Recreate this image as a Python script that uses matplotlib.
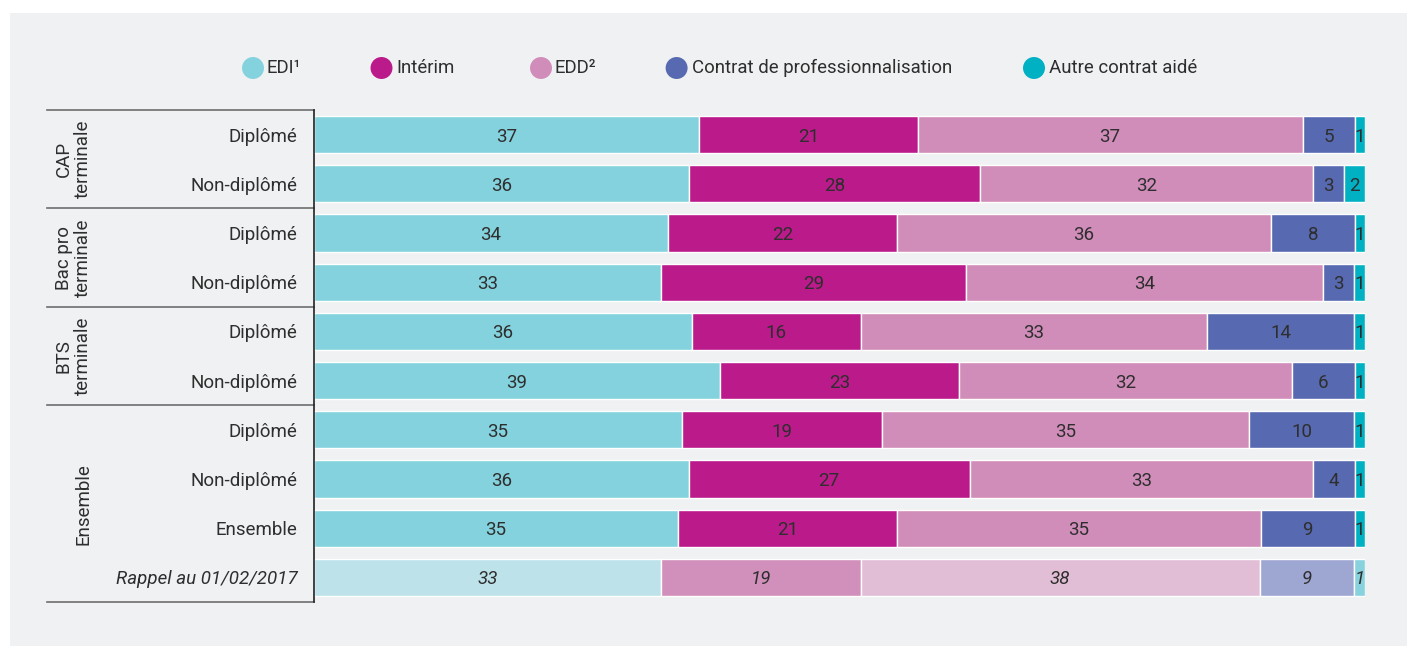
import matplotlib
matplotlib.use("Agg")
import matplotlib.pyplot as plt
import matplotlib.transforms as mtransforms
from matplotlib.patches import Rectangle
import numpy as np

plt.rcParams['font.family'] = ['Roboto', 'DejaVu Sans']

# ---------------- data ----------------
row_labels = ["Diplômé", "Non-diplômé", "Diplômé", "Non-diplômé", "Diplômé",
              "Non-diplômé", "Diplômé", "Non-diplômé", "Ensemble",
              "Rappel au 01/02/2017"]
groups = ["CAP\nterminale", "Bac pro\nterminale", "BTS\nterminale", "Ensemble"]
group_rows = [(0, 1), (2, 3), (4, 5), (6, 9)]

series = ["EDI¹", "Intérim", "EDD²", "Contrat de professionnalisation", "Autre contrat aidé"]
edi      = [37, 36, 34, 33, 36, 39, 35, 36, 35, 33]
interim  = [21, 28, 22, 29, 16, 23, 19, 27, 21, 19]
edd      = [37, 32, 36, 34, 33, 32, 35, 33, 35, 38]
contrat  = [5, 3, 8, 3, 14, 6, 10, 4, 9, 9]
autre    = [1, 2, 1, 1, 1, 1, 1, 1, 1, 1]

colors = ["#84d2de", "#bb1a8b", "#d18db9", "#5769b0", "#00b1c4"]
colors_rappel = ["#bde2ea", "#d18fbb", "#e2bed6", "#9ea6d2", "#87d2dd"]

# ---------------- figure ----------------
W, H = 1407, 646
fig = plt.figure(figsize=(W / 100, H / 100), dpi=100, facecolor="white")

# overlay in pixel coordinates for background panel and legend
bg = fig.add_axes([0, 0, 1, 1], zorder=0)
bg.set_xlim(0, W)
bg.set_ylim(H, 0)
bg.axis("off")
bg.add_patch(Rectangle((10, 13), W - 10, H - 13, facecolor="#f0f1f3", edgecolor="none"))

left, right, top, bottom = 314, 1365, 110, 602
ax = fig.add_axes([left / W, 1 - bottom / H, (right - left) / W, (bottom - top) / H], zorder=1)
ax.set_facecolor("none")

data = np.array([edi, interim, edd, contrat, autre], dtype=float)
totals = data.sum(axis=0)
shares = data / totals * 100
n = len(row_labels)
y = np.arange(n)
cum = np.zeros(n)
txt_color = "#2e2e2e"
for k in range(len(series)):
    cols = [colors_rappel[k] if i == n - 1 else colors[k] for i in range(n)]
    ax.barh(y, shares[k], left=cum, height=0.76, color=cols,
            edgecolor="white", linewidth=1.0)
    for i in range(n):
        ax.text(cum[i] + shares[k][i] / 2, y[i], f"{int(data[k][i])}",
                ha="center", va="center_baseline", fontsize=13.5, color=txt_color,
                style="italic" if i == n - 1 else "normal")
    cum += shares[k]

ax.set_xlim(0, 100)
ax.set_ylim(n - 0.5, -0.5)
ax.set_xticks([])
ax.set_yticks(y)
ax.set_yticklabels(row_labels, fontsize=13.5, color=txt_color)
ax.get_yticklabels()[-1].set_fontstyle("italic")
ax.tick_params(axis="y", length=0, pad=12)
for s in ["top", "right", "bottom"]:
    ax.spines[s].set_visible(False)
ax.spines["left"].set_color("#222222")
ax.spines["left"].set_linewidth(1.2)

# table lines and group labels
trans = mtransforms.blended_transform_factory(ax.transAxes, ax.transData)
x0 = (47 - left) / (right - left)
boundaries = [-0.5] + [g[1] + 0.5 for g in group_rows]
for b in boundaries:
    ax.plot([x0, 0], [b, b], color="#6e6e6e", lw=1.2, transform=trans, clip_on=False)
xg = (92 - left) / (right - left)
for g, (a, b) in zip(groups, group_rows):
    ax.text(xg, (a + b) / 2, g, rotation=90, ha="right", va="center",
            multialignment="center", fontsize=13.5, color=txt_color,
            transform=trans, linespacing=1.1)

# legend (manual)
circle_x = [253, 381.5, 541, 676.6, 1034]
text_x = [266.6, 396, 554, 692.5, 1049]
ly = 68
for cx, tx, c, lab in zip(circle_x, text_x, colors, series):
    bg.scatter([cx], [ly], s=250, color=c, edgecolors="none")
    bg.text(tx, ly, lab, ha="left", va="center", fontsize=13.4, color=txt_color)

fig.savefig("out.png", dpi=100, facecolor=fig.get_facecolor())
